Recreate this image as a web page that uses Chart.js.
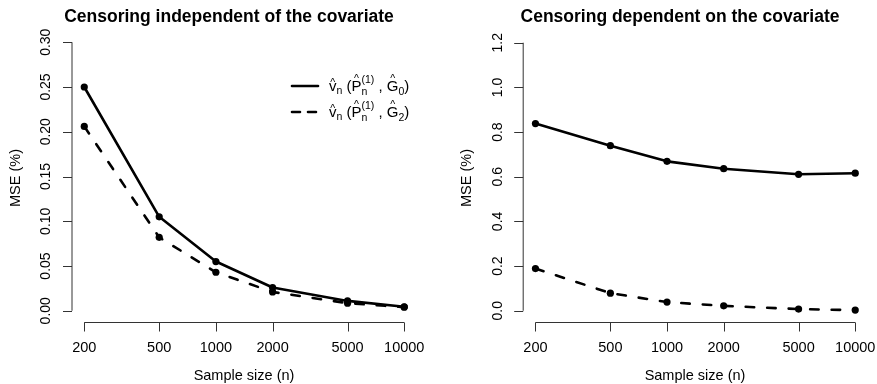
<!DOCTYPE html>
<html>
<head>
<meta charset="utf-8">
<script src="https://cdn.jsdelivr.net/npm/chart.js@4"></script>
<style>
  body { margin: 0; background: #fff; }
  #wrap { position: relative; width: 877px; height: 384px; }
  canvas { position: absolute; top: 0; }
</style>
</head>
<body>
<div id="wrap">
  <canvas id="left" width="438" height="384" style="left:0"></canvas>
  <canvas id="right" width="439" height="384" style="left:438px"></canvas>
</div>
<script>
// --- DATOS ---
const sampleSizes = [200, 500, 1000, 2000, 5000, 10000];
const indepG0 = [0.250, 0.105, 0.055, 0.026, 0.011, 0.0045];
const indepG2 = [0.206, 0.082, 0.043, 0.021, 0.0085, 0.004];
const depG0 = [0.838, 0.739, 0.669, 0.636, 0.611, 0.616];
const depG2 = [0.189, 0.079, 0.039, 0.022, 0.0075, 0.003];
const yTicksLeft = [0, 0.05, 0.10, 0.15, 0.20, 0.25, 0.30];
const yTicksRight = [0, 0.2, 0.4, 0.6, 0.8, 1.0, 1.2];
const titles = ["Censoring independent of the covariate", "Censoring dependent on the covariate"];
const seriesLabels = ["v\u0302n (P\u0302n(1), G\u03020)", "v\u0302n (P\u0302n(1), G\u03022)"];

const FONT = '"Liberation Sans", Arial, sans-serif';
const DASH = [8.5, 13];

function puntos(vals) {
  return sampleSizes.map((n, i) => ({ x: n, y: vals[i] }));
}

function serie(label, vals, dashed) {
  return {
    label: label,
    data: puntos(vals),
    borderColor: "#000",
    backgroundColor: "#000",
    borderWidth: 2.6,
    borderDash: dashed ? DASH : [],
    borderCapStyle: "round",
    borderJoinStyle: "round",
    pointRadius: 3.6,
    pointBorderWidth: 0,
    pointBackgroundColor: "#000",
    tension: 0
  };
}

// leyenda con notación matemática
function etiquetaMath(ctx, x, base, sub) {
  const big = 15, small = 10.5;
  let cx = x;
  ctx.fillStyle = "#000";
  ctx.textBaseline = "alphabetic";
  function put(txt, size, dy) {
    ctx.font = size + "px " + FONT;
    ctx.textAlign = "left";
    ctx.fillText(txt, cx, base + dy);
    const w = ctx.measureText(txt).width;
    cx += w;
    return w;
  }
  function hat(mid, dy) {
    ctx.font = small + "px " + FONT;
    ctx.textAlign = "center";
    ctx.fillText("^", mid, base + dy);
  }
  let s = cx, w = put("v", big, 0); hat(s + w / 2, -5);
  put("n", small, 3);
  put(" (", big, 0);
  s = cx; w = put("P", big, 0); hat(s + w / 2, -9);
  const sx = cx;
  const wSup = put("(1)", small, -8);
  cx = sx;
  const wSub = put("n", small, 4);
  cx = sx + Math.max(wSup, wSub);
  put(" , ", big, 0);
  s = cx; w = put("G", big, 0); hat(s + w / 2, -9);
  put(sub, small, 4);
  put(")", big, 0);
}

// ejes estilo R
const ejesR = {
  id: "ejesR",
  afterDraw(chart, args, opts) {
    const ctx = chart.ctx;
    const xs = chart.scales.x, ys = chart.scales.y;
    const area = chart.chartArea;
    ctx.save();
    ctx.strokeStyle = "#333";
    ctx.lineWidth = 1;
    ctx.fillStyle = "#000";

    // eje y
    const y0 = ys.getPixelForValue(opts.yTicks[0]);
    const y1 = ys.getPixelForValue(opts.yTicks[opts.yTicks.length - 1]);
    ctx.beginPath();
    ctx.moveTo(area.left + 0.5, y0);
    ctx.lineTo(area.left + 0.5, y1);
    opts.yTicks.forEach(v => {
      const py = Math.round(ys.getPixelForValue(v)) + 0.5;
      ctx.moveTo(area.left + 0.5, py);
      ctx.lineTo(area.left - 8.5, py);
    });
    ctx.stroke();
    ctx.font = "14px " + FONT;
    ctx.textAlign = "center";
    ctx.textBaseline = "middle";
    opts.yTicks.forEach(v => {
      const py = ys.getPixelForValue(v);
      ctx.save();
      ctx.translate(area.left - 25, py);
      ctx.rotate(-Math.PI / 2);
      ctx.fillText(v.toFixed(opts.dec), 0, 0);
      ctx.restore();
    });

    // eje x
    const base = Math.round(area.bottom) + 0.5;
    ctx.beginPath();
    ctx.moveTo(xs.getPixelForValue(sampleSizes[0]), base);
    ctx.lineTo(xs.getPixelForValue(sampleSizes[sampleSizes.length - 1]), base);
    sampleSizes.forEach(n => {
      const px = Math.round(xs.getPixelForValue(n)) + 0.5;
      ctx.moveTo(px, base);
      ctx.lineTo(px, base + 9);
    });
    ctx.stroke();
    ctx.font = "14.5px " + FONT;
    sampleSizes.forEach(n => {
      ctx.fillText(String(n), xs.getPixelForValue(n), 348);
    });

    // títulos de ejes
    ctx.fillText("Sample size (n)", opts.xTitleX, 376);
    ctx.save();
    ctx.translate(opts.yTitleX, 178);
    ctx.rotate(-Math.PI / 2);
    ctx.fillText("MSE (%)", 0, 0);
    ctx.restore();

    // título
    ctx.font = "bold 17.5px " + FONT;
    ctx.fillText(opts.title, opts.titleX, 17);

    // leyenda
    if (opts.legend) {
      const filas = [{ y: 86, dash: [], sub: "0" }, { y: 112, dash: [8, 8], sub: "2" }];
      filas.forEach(f => {
        ctx.save();
        ctx.strokeStyle = "#000";
        ctx.lineWidth = 2.6;
        ctx.lineCap = "round";
        ctx.setLineDash(f.dash);
        ctx.beginPath();
        ctx.moveTo(292, f.y);
        ctx.lineTo(318, f.y);
        ctx.stroke();
        ctx.restore();
        etiquetaMath(ctx, 329, f.y + 5, f.sub);
      });
    }
    ctx.restore();
  }
};

function crearGrafica(id, a, b, yMin, yMax, pad, extra) {
  return new Chart(document.getElementById(id), {
    type: "line",
    data: { datasets: [serie(seriesLabels[0], a, false), serie(seriesLabels[1], b, true)] },
    plugins: [ejesR],
    options: {
      responsive: false,
      animation: false,
      devicePixelRatio: 1,
      layout: { padding: pad },
      scales: {
        x: { type: "logarithmic", min: 171.1, max: 11690, display: false },
        y: { type: "linear", min: yMin, max: yMax, display: false }
      },
      plugins: {
        legend: { display: false },
        tooltip: { enabled: false },
        ejesR: extra
      }
    }
  });
}

crearGrafica("left", indepG0, indepG2, -0.012, 0.312,
  { left: 71.5, right: 21, top: 31.5, bottom: 62.5 },
  { yTicks: yTicksLeft, dec: 2, title: titles[0], titleX: 229, xTitleX: 244, yTitleX: 16, legend: true });

crearGrafica("right", depG0, depG2, -0.048, 1.248,
  { left: 84.7, right: 9, top: 32, bottom: 62.5 },
  { yTicks: yTicksRight, dec: 1, title: titles[1], titleX: 242, xTitleX: 257, yTitleX: 29, legend: false });
</script>
</body>
</html>
